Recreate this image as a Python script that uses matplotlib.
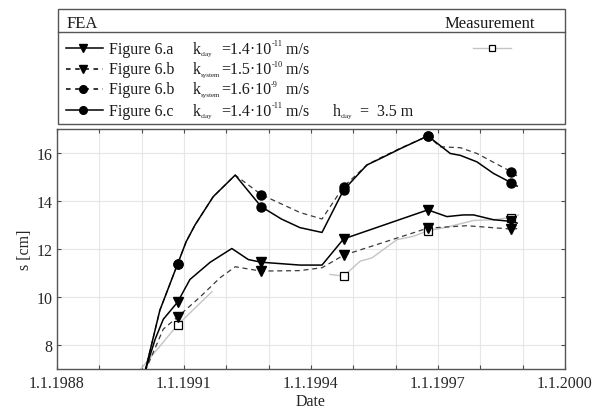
import numpy as np
import matplotlib
matplotlib.use("Agg")
import matplotlib.pyplot as plt
from matplotlib.ticker import MultipleLocator, FixedLocator, FuncFormatter
from matplotlib.patches import Rectangle

plt.rcParams['font.family'] = ['Liberation Serif', 'DejaVu Serif']

# dates as decimal years, settlement s in cm
marker_years = [1990.85, 1992.82, 1994.77, 1996.76, 1998.73]
date_ticks = [1988, 1991, 1994, 1997, 2000]

fig6a_years = [1990.08, 1990.32, 1990.51, 1990.85, 1991.14, 1991.62, 1992.13, 1992.52, 1992.82, 1993.74,
               1994.26, 1994.77, 1996.76, 1997.21, 1997.6, 1997.84, 1998.31, 1998.73, 1998.87]
fig6a_s = [6.9, 8.25, 9.07, 9.79, 10.73, 11.45, 12.02, 11.56, 11.45, 11.33,
           11.33, 12.42, 13.63, 13.35, 13.42, 13.42, 13.22, 13.15, 13.08]

fig6b1_years = [1990.08, 1990.51, 1990.85, 1991.38, 1991.85, 1992.21, 1992.82, 1993.74,
                1994.26, 1994.77, 1996.76, 1997.68, 1998.73, 1998.87]
fig6b1_s = [6.9, 8.66, 9.17, 10.0, 10.8, 11.26, 11.08, 11.1,
            11.22, 11.74, 12.87, 12.97, 12.83, 12.85]

fig6b2_years = [1990.08, 1990.43, 1990.85, 1991.05, 1991.26, 1991.69, 1992.21, 1992.82, 1993.74,
                1994.26, 1994.77, 1995.32, 1995.64, 1996.11, 1996.76, 1997.05, 1997.53,
                1997.92, 1998.73, 1998.87]
fig6b2_s = [6.9, 9.45, 11.38, 12.3, 13.0, 14.18, 15.08, 14.27, 13.52,
            13.25, 14.6, 15.5, 15.8, 16.2, 16.71, 16.26, 16.22,
            15.98, 15.22, 15.04]

fig6c_years = [1990.08, 1990.43, 1990.85, 1991.05, 1991.26, 1991.69, 1992.21, 1992.82, 1993.3, 1993.74,
               1994.26, 1994.77, 1995.32, 1995.64, 1996.11, 1996.76, 1997.29, 1997.53,
               1997.92, 1998.31, 1998.73, 1998.87]
fig6c_s = [6.9, 9.45, 11.38, 12.3, 13.0, 14.18, 15.08, 13.77, 13.25, 12.89,
           12.69, 14.46, 15.5, 15.77, 16.18, 16.71, 15.98, 15.9,
           15.63, 15.15, 14.76, 14.62]

meas_years = [1989.98, 1990.85, 1991.66, np.nan, 1994.45, 1994.77, 1995.16, 1995.44, 1996.03,
              1996.42, 1996.76, 1997.21, 1997.84, 1998.31, 1998.73, 1998.9]
meas_s = [7.0, 8.84, 10.22, np.nan, 10.94, 10.87, 11.49, 11.63, 12.39,
          12.53, 12.76, 12.91, 13.19, 13.22, 13.31, 13.42]

W, H = 597, 410
fig = plt.figure(figsize=(W / 100, H / 100), dpi=100)
ax = fig.add_axes([57 / W, (H - 370) / H, (565 - 57) / W, (370 - 130) / H])


def marks(years):
    return [i for i, y in enumerate(years) if y in marker_years]


dash_style = dict(color='#3a3a3a', lw=0.9, dashes=(4, 3))
ax.plot(meas_years, meas_s, color='#c4c4c4', lw=1.0, marker='s', ms=5.5,
        mfc='white', mec='black', mew=0.9, markevery=marks(meas_years), zorder=2)
ax.plot(fig6b1_years, fig6b1_s, marker='v', ms=6.5, mfc='black', mec='black',
        markevery=marks(fig6b1_years), zorder=3, **dash_style)
ax.plot(fig6b2_years, fig6b2_s, marker='o', ms=6.5, mfc='black', mec='black',
        markevery=marks(fig6b2_years), zorder=3, **dash_style)
ax.plot(fig6a_years, fig6a_s, color='black', lw=1.1, marker='v', ms=6.5,
        markevery=marks(fig6a_years), zorder=4)
ax.plot(fig6c_years, fig6c_s, color='black', lw=1.1, marker='o', ms=6.5,
        markevery=marks(fig6c_years), zorder=4)

ax.set_xlim(1988, 2000)
ax.set_ylim(7, 17)
ax.xaxis.set_major_locator(FixedLocator(date_ticks))
ax.xaxis.set_minor_locator(MultipleLocator(1))
ax.xaxis.set_major_formatter(FuncFormatter(lambda v, p: '1.1.%d' % round(v)))
ax.set_yticks([8, 10, 12, 14, 16])
ax.grid(which='both', axis='x', color='#e6e6e6', lw=0.8)
ax.grid(which='major', axis='y', color='#e6e6e6', lw=0.8)
ax.set_axisbelow(True)
ax.tick_params(which='both', direction='in', length=3, top=True, right=True,
               color='#4d4d4d', labelcolor='#262626', labelsize=11.5, width=0.8)
ax.tick_params(axis='y', pad=3)
ax.tick_params(axis='x', pad=4)
for sp in ax.spines.values():
    sp.set_color('#555555')
    sp.set_linewidth(1.0)
ax.set_xlabel('Date', fontsize=11.5, color='#262626', labelpad=2)
ax.set_ylabel('s [cm]', fontsize=11.5, color='#262626', labelpad=3)

# legend drawn in pixel space
lax = fig.add_axes([0, 0, 1, 1])
lax.set_xlim(0, W)
lax.set_ylim(H, 0)
lax.axis('off')
lax.add_patch(Rectangle((57.5, 9.5), 565 - 57.5, 124.5 - 9.5, fill=False,
                        ec='#555555', lw=1.0))
lax.plot([57.5, 565], [32.5, 32.5], color='#555555', lw=1.0)
lax.text(67, 27.5, 'FEA', fontsize=12, va='baseline', ha='left', color='#1a1a1a')
lax.text(489.5, 27.5, 'Measurement', fontsize=12, va='baseline', ha='center', color='#1a1a1a')

rend = fig.canvas.get_renderer()


def rich(x, y, parts):
    for s, size, dy in parts:
        t = lax.text(x, y + dy, s, fontsize=size, va='baseline', ha='left', color='#1a1a1a')
        x += t.get_window_extent(rend).width


row_y = [49, 70, 90, 111]
handles = [('-', 'v'), ('--', 'v'), ('--', 'o'), ('-', 'o')]
names = ['Figure 6.a', 'Figure 6.b', 'Figure 6.b', 'Figure 6.c']
subs = ['clay', 'system', 'system', 'clay']
vals = [('=1.4\u00b710', '-11'), ('=1.5\u00b710', '-10'), ('=1.6\u00b710', '-9'), ('=1.4\u00b710', '-11')]
units = [' m/s', ' m/s', '  m/s', ' m/s']

for y, (ls, mk), name, sub, (v, e), u in zip(row_y, handles, names, subs, vals, units):
    if ls == '-':
        lax.plot([66, 103], [y, y], color='black', lw=1.1)
    else:
        lax.plot([66, 103], [y, y], color='black', lw=1.1, dashes=(3, 3))
    lax.plot([82.5], [y], marker=mk, ms=5.5, color='black')
    rich(109, y + 4.5, [(name, 11.5, 0)])
    rich(193, y + 4.5, [('k', 11.5, 0), (sub, 5, 2.5)])
    rich(221, y + 4.5, [(v, 11.5, 0), (e, 6, -7.5), (u, 11.5, 0)])
rich(333, row_y[3] + 4.5, [('h', 11.5, 0), ('clay', 5, 2.5)])
rich(360, row_y[3] + 4.5, [('=  3.5 m', 11.5, 0)])

lax.plot([473, 511], [49, 49], color='#c4c4c4', lw=1.0)
lax.plot([492], [49], marker='s', ms=5, mfc='white', mec='black', mew=0.9)

fig.savefig('out.png', dpi=100)
